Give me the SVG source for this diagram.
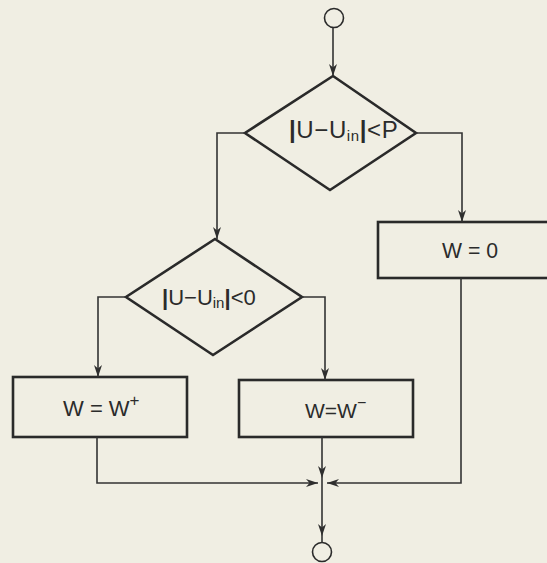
<svg xmlns="http://www.w3.org/2000/svg" width="547" height="563" viewBox="0 0 547 563">
  <defs>
    <marker id="arrow" markerUnits="userSpaceOnUse" markerWidth="14" markerHeight="10" refX="12" refY="4" orient="auto" overflow="visible">
      <path d="M0,0 L12,4 L0,8 L3.5,4 Z" fill="#2e2e2e"/>
    </marker>
    <style>
      .shape { fill: none; stroke: #2a2a2a; stroke-width: 2.6; stroke-linejoin: miter; }
      .term { fill: none; stroke: #2a2a2a; stroke-width: 1.6; }
      .conn { fill: none; stroke: #333333; stroke-width: 1.6; }
      .lbl { font-family: "Liberation Sans", "DejaVu Sans", sans-serif; fill: #2b2b2b; }
      .sub { font-size: 15px; }
      .bar { font-weight: bold; }
    </style>
  </defs>

  <!-- paper -->
  <rect x="0" y="0" width="547" height="563" fill="#f0eee3"/>

  <!-- start / end terminals -->
  <g id="start">
    <circle class="term" cx="334" cy="18" r="9.5"/>
  </g>
  <g id="end">
    <circle class="term" cx="322" cy="552" r="9.5"/>
  </g>

  <!-- first test: |U - Uin| < P -->
  <g id="test-p">
    <polygon class="shape" points="333,76 416,133 330,190 245,133"/>
    <text class="lbl" x="289" y="138" font-size="24" letter-spacing="0.6"><tspan class="bar">|</tspan>U−U<tspan class="sub" dy="3">in</tspan><tspan class="bar" dy="-3">|</tspan>&lt;P</text>
  </g>

  <!-- second test: |U - Uin| < 0 -->
  <g id="test-zero">
    <polygon class="shape" points="215,239 302,297 213,355 126,297"/>
    <text class="lbl" x="162" y="305" font-size="22"><tspan class="bar">|</tspan>U−U<tspan class="sub" dy="3">in</tspan><tspan class="bar" dy="-3">|</tspan>&lt;0</text>
  </g>

  <!-- W = 0 -->
  <g id="w-zero">
    <rect class="shape" x="378" y="222" width="175" height="56"/>
    <text class="lbl" x="442" y="258" font-size="22" textLength="56" lengthAdjust="spacingAndGlyphs">W = 0</text>
  </g>

  <!-- W = W+ -->
  <g id="w-plus">
    <rect class="shape" x="13" y="377" width="174" height="60"/>
    <text class="lbl" x="63" y="416" font-size="22">W = W<tspan font-size="17" dy="-10">+</tspan></text>
  </g>

  <!-- W = W- -->
  <g id="w-minus">
    <rect class="shape" x="239" y="380" width="174" height="57"/>
    <text class="lbl" x="305" y="418" font-size="21">W=W<tspan font-size="16" dy="-10">−</tspan></text>
  </g>

  <!-- flow lines -->
  <g id="connectors">
    <path class="conn" d="M333,28 V76" marker-end="url(#arrow)"/>
    <path class="conn" d="M245,133 H217 V239" marker-end="url(#arrow)"/>
    <path class="conn" d="M416,133 H462 V222" marker-end="url(#arrow)"/>
    <path class="conn" d="M126,297 H98 V377" marker-end="url(#arrow)"/>
    <path class="conn" d="M302,297 H325 V380" marker-end="url(#arrow)"/>
    <path class="conn" d="M97,437 V483 H318" marker-end="url(#arrow)"/>
    <path class="conn" d="M461,278 V483 H327" marker-end="url(#arrow)"/>
    <path class="conn" d="M322,437 V478" marker-end="url(#arrow)"/>
    <path class="conn" d="M322,478 V536 V542.5" marker-mid="url(#arrow)"/>
  </g>
</svg>
